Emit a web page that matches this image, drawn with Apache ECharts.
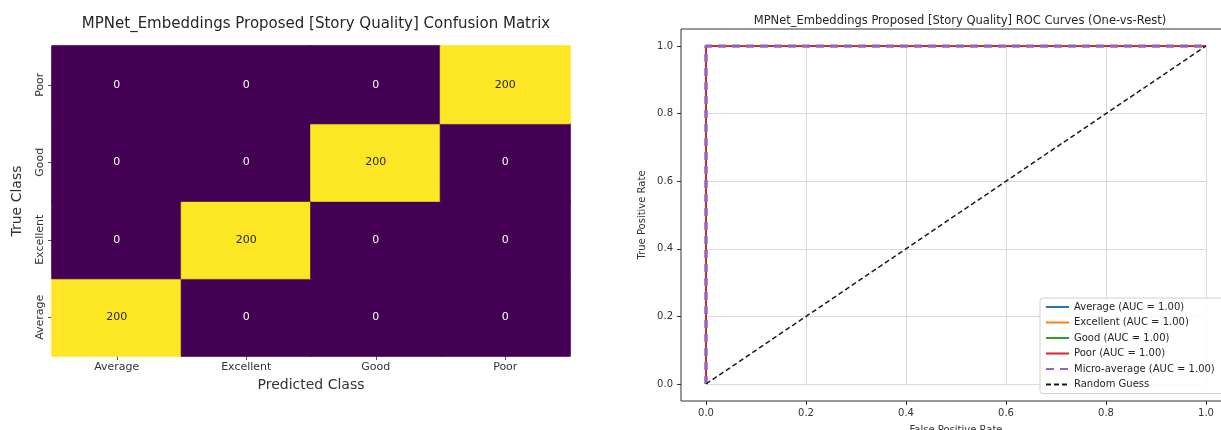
<!DOCTYPE html>
<html>
<head>
    <meta charset="UTF-8">
    <title>MPNet_Embeddings Proposed [Story Quality]</title>
    <script src="https://cdn.jsdelivr.net/npm/echarts@6/dist/echarts.min.js"></script>
</head>
<body style="margin: 0; background: #fff">
    <div id="container" style="width: 1221px; height: 430px"></div>
    <script type="text/javascript">
        // classes, rows = true class, cols = predicted class
        var classes = ['Average', 'Excellent', 'Good', 'Poor'];
        var confusion = [
            [200, 0, 0, 0],
            [0, 200, 0, 0],
            [0, 0, 200, 0],
            [0, 0, 0, 200]
        ];

        // roc curves (fpr / tpr)
        var rocNames = ['Average (AUC = 1.00)', 'Excellent (AUC = 1.00)', 'Good (AUC = 1.00)', 'Poor (AUC = 1.00)'];
        var rocColors = ['#1f77b4', '#ff7f0e', '#2ca02c', '#d62728'];
        var rocFpr = [[0, 0, 1], [0, 0, 1], [0, 0, 1], [0, 0, 1]];
        var rocTpr = [[0, 1, 1], [0, 1, 1], [0, 1, 1], [0, 1, 1]];
        var microFpr = [0, 0, 1];
        var microTpr = [0, 1, 1];
        var randomFpr = [0, 1];
        var randomTpr = [0, 1];
        var rocTicks = [0, 0.2, 0.4, 0.6, 0.8, 1.0];

        var font = 'DejaVu Sans';
        var viridis = ['#440154', '#482878', '#3e4989', '#31688e', '#26828e', '#1f9e89', '#35b779', '#6ece58', '#b5de2b', '#fde725'];

        var heatData = [];
        confusion.forEach(function (row, i) {
            row.forEach(function (v, j) {
                var hi = v > 100;
                heatData.push({
                    value: [j, i, v],
                    itemStyle: { borderWidth: 1, borderColor: hi ? '#fde725' : '#440154' },
                    label: { color: hi ? '#262626' : '#ffffff' }
                });
            });
        });

        function zip(xs, ys) {
            return xs.map(function (x, i) { return [x, ys[i]]; });
        }

        var series = [{
            type: 'heatmap',
            xAxisIndex: 0,
            yAxisIndex: 0,
            data: heatData,
            label: {
                show: true,
                fontFamily: font,
                fontSize: 11,
                formatter: function (p) { return p.value[2]; }
            },
            emphasis: { disabled: true }
        }];

        rocNames.forEach(function (n, k) {
            series.push({
                name: n,
                type: 'line',
                xAxisIndex: 1,
                yAxisIndex: 1,
                symbol: 'none',
                color: rocColors[k],
                lineStyle: { width: 2, color: rocColors[k] },
                data: zip(rocFpr[k], rocTpr[k])
            });
        });
        series.push({
            name: 'Micro-average (AUC = 1.00)',
            type: 'line',
            xAxisIndex: 1,
            yAxisIndex: 1,
            symbol: 'none',
            color: '#9467bd',
            lineStyle: { width: 3.5, type: [8, 6], color: '#9467bd' },
            data: zip(microFpr, microTpr)
        });
        series.push({
            name: 'Random Guess',
            type: 'line',
            xAxisIndex: 1,
            yAxisIndex: 1,
            symbol: 'none',
            color: '#000',
            lineStyle: { width: 1.5, type: [5, 3], color: '#1a1a1a' },
            data: zip(randomFpr, randomTpr)
        });

        var labelStyle = { fontFamily: font, fontSize: 10, color: '#333' };
        var fmt = function (v) { return (+v).toFixed(1); };

        var option = {
            animation: false,
            backgroundColor: '#fff',
            title: [{
                text: 'MPNet_Embeddings Proposed [Story Quality] Confusion Matrix',
                left: 311,
                top: 12,
                textAlign: 'center',
                textStyle: { fontFamily: font, fontSize: 15, fontWeight: 'normal', color: '#262626' }
            }, {
                text: 'MPNet_Embeddings Proposed [Story Quality] ROC Curves (One-vs-Rest)',
                left: 955,
                top: 10,
                textAlign: 'center',
                textStyle: { fontFamily: font, fontSize: 11.5, fontWeight: 'normal', color: '#262626' }
            }],
            grid: [
                { left: 52, top: 46, width: 518, height: 310, outerBoundsMode: 'none' },
                { left: 706, top: 46, width: 500, height: 338, outerBoundsMode: 'none' },
                { left: 681, top: 29, width: 550, height: 372, outerBoundsMode: 'none', show: true, borderColor: '#333', borderWidth: 1, backgroundColor: 'transparent' }
            ],
            visualMap: {
                show: false,
                seriesIndex: 0,
                dimension: 2,
                min: 0,
                max: 200,
                inRange: { color: viridis }
            },
            legend: {
                orient: 'vertical',
                left: 1040,
                top: 298,
                padding: [4, 40, 4, 5],
                itemGap: 5.5,
                itemWidth: 23,
                itemHeight: 10,
                backgroundColor: 'rgba(255,255,255,0.85)',
                borderColor: '#d0d0d0',
                borderWidth: 1,
                borderRadius: 3,
                itemStyle: { opacity: 0 },
                textStyle: { fontFamily: font, fontSize: 10, color: '#262626' },
                data: rocNames.concat(['Micro-average (AUC = 1.00)', 'Random Guess'])
            },
            xAxis: [{
                gridIndex: 0,
                type: 'category',
                data: classes,
                axisLine: { show: false },
                axisTick: { show: true, alignWithLabel: true, length: 4, lineStyle: { color: '#555' } },
                axisLabel: { fontFamily: font, fontSize: 11, color: '#333', margin: 6 },
                name: 'Predicted Class',
                nameLocation: 'middle',
                nameGap: 22,
                nameTextStyle: { fontFamily: font, fontSize: 14, color: '#333' }
            }, {
                // data area: grid lines only
                gridIndex: 1,
                type: 'value',
                min: 0,
                max: 1,
                interval: 0.2,
                axisLine: { show: false },
                axisTick: { show: false },
                axisLabel: { show: false },
                splitLine: { show: true, lineStyle: { color: '#d9d9d9', width: 1 } }
            }, {
                // frame: ticks and labels outside the box
                gridIndex: 2,
                type: 'value',
                min: -0.05,
                max: 1.05,
                axisLine: { show: false, onZero: false },
                axisTick: { show: true, length: 4, customValues: rocTicks, lineStyle: { color: '#333' } },
                axisLabel: Object.assign({ margin: 7, customValues: rocTicks, formatter: fmt }, labelStyle),
                splitLine: { show: false },
                name: 'False Positive Rate',
                nameLocation: 'middle',
                nameGap: 24,
                nameTextStyle: { fontFamily: font, fontSize: 10, color: '#333' }
            }],
            yAxis: [{
                gridIndex: 0,
                type: 'category',
                data: classes,
                axisLine: { show: false },
                axisTick: { show: true, alignWithLabel: true, length: 4, lineStyle: { color: '#555' } },
                axisLabel: { fontFamily: font, fontSize: 11, color: '#333', rotate: 90, margin: 6 },
                name: 'True Class',
                nameLocation: 'middle',
                nameGap: 28,
                nameTextStyle: { fontFamily: font, fontSize: 14, color: '#333' }
            }, {
                gridIndex: 1,
                type: 'value',
                min: 0,
                max: 1,
                interval: 0.2,
                axisLine: { show: false },
                axisTick: { show: false },
                axisLabel: { show: false },
                splitLine: { show: true, lineStyle: { color: '#d9d9d9', width: 1 } }
            }, {
                gridIndex: 2,
                type: 'value',
                min: -0.05,
                max: 1.05,
                axisLine: { show: false, onZero: false },
                axisTick: { show: true, length: 4, customValues: rocTicks, lineStyle: { color: '#333' } },
                axisLabel: Object.assign({ margin: 8, customValues: rocTicks, formatter: fmt }, labelStyle),
                splitLine: { show: false },
                name: 'True Positive Rate',
                nameLocation: 'middle',
                nameGap: 34,
                nameTextStyle: { fontFamily: font, fontSize: 10, color: '#333' }
            }],
            series: series
        };

        var myChart = echarts.init(document.getElementById('container'));
        myChart.setOption(option);
    </script>
</body>
</html>
